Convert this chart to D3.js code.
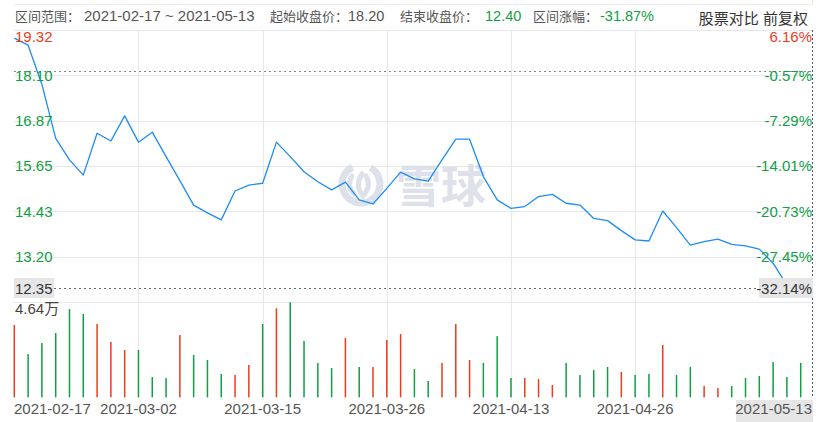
<!DOCTYPE html>
<html>
<head>
<meta charset="utf-8">
<script src="https://cdn.jsdelivr.net/npm/d3@7"></script>
<style>
  body { margin: 0; background: #fff; }
  svg { display: block; font-family: "Liberation Sans", Arial, "Noto Sans CJK SC", sans-serif; }
</style>
</head>
<body>
<div id="chart"></div>
<script>
// ------- data -------
const dates = [
  "2021-02-17","2021-02-18","2021-02-19","2021-02-22","2021-02-23","2021-02-24","2021-02-25","2021-02-26",
  "2021-03-01","2021-03-02","2021-03-03","2021-03-04","2021-03-05","2021-03-08","2021-03-09","2021-03-10",
  "2021-03-11","2021-03-12","2021-03-15","2021-03-16","2021-03-17","2021-03-18","2021-03-19","2021-03-22",
  "2021-03-23","2021-03-24","2021-03-25","2021-03-26","2021-03-29","2021-03-30","2021-03-31","2021-04-01",
  "2021-04-07","2021-04-08","2021-04-09","2021-04-12","2021-04-13","2021-04-14","2021-04-15","2021-04-16",
  "2021-04-19","2021-04-20","2021-04-21","2021-04-22","2021-04-23","2021-04-26","2021-04-27","2021-04-28",
  "2021-04-29","2021-04-30","2021-05-04","2021-05-05","2021-05-06","2021-05-07","2021-05-10","2021-05-11",
  "2021-05-12","2021-05-13"
];

const closes = [
  19.10, 18.91, 17.85, 16.39, 15.81, 15.40, 16.53, 16.32, 17.00, 16.29,
  16.56, 15.90, 15.25, 14.59, 14.38, 14.19, 14.97, 15.13, 15.18, 16.29,
  15.90, 15.49, 15.22, 15.00, 15.21, 14.73, 14.62, 15.04, 15.48, 15.30,
  15.24, 15.81, 16.37, 16.37, 15.36, 14.73, 14.50, 14.55, 14.82, 14.88,
  14.64, 14.59, 14.23, 14.17, 13.90, 13.65, 13.62, 14.43, 13.98, 13.51,
  13.60, 13.67, 13.53, 13.49, 13.40, 13.02, 12.43, 12.40
];

// 成交量（万）
const volumes = [
  3.53, 2.11, 2.65, 3.14, 4.31, 4.07, 3.58, 2.70, 2.31, 2.31,
  0.99, 0.94, 3.04, 2.07, 1.82, 1.14, 1.09, 1.58, 3.58, 4.35,
  4.64, 2.75, 1.68, 1.43, 2.90, 1.48, 1.48, 2.80, 3.09, 1.38,
  0.80, 1.68, 3.58, 1.82, 1.68, 2.99, 0.94, 0.94, 0.89, 0.60,
  1.68, 1.09, 1.33, 1.48, 1.24, 1.09, 1.14, 2.55, 1.09, 1.48,
  0.55, 0.45, 0.55, 0.94, 1.04, 1.72, 0.99, 1.68
];

// 1 = 涨 (red), 0 = 跌 (green)
const volUp = [
  1,0,0,0,0,0,1,1,1,0,
  0,0,1,0,0,0,1,1,0,1,
  0,0,0,0,1,0,1,1,1,0,
  0,1,1,1,0,0,0,1,1,1,
  0,0,0,0,1,0,0,1,0,0,
  1,1,0,0,0,0,0,0
];

const priceTicks = [19.32, 18.10, 16.87, 15.65, 14.43, 13.20, 12.35];
const pctTicks = ["6.16%", "-0.57%", "-7.29%", "-14.01%", "-20.73%", "-27.45%", "-32.14%"];
const dateTicks = ["2021-02-17", "2021-03-02", "2021-03-15", "2021-03-26", "2021-04-13", "2021-04-26", "2021-05-13"];
const startClose = 18.20;
const volMax = 4.64;

// ------- render -------
const W = 822, H = 422;
const RED = "#ee3b1e", GREEN = "#10a043", LINE = "#1e8cf5";
const GRID = "#e6e7ef", TXT = "#555";

const svg = d3.select("#chart").append("svg").attr("width", W).attr("height", H);

const x = d3.scalePoint().domain(dates).range([14.3, 800.7]);
const y = d3.scaleLinear().domain([12.35, 19.32]).range([288, 30]);
const yv = d3.scaleLinear().domain([0, volMax]).range([397.3, 302.3]);

const left = 14, right = 813;

// faint frame from the tab bar above
svg.append("path")
  .attr("d", `M${left},4.5H${right - 0.5}V0`)
  .attr("fill", "none").attr("stroke", "#ececec");

// header: label / value pairs
const headItems = [
  { lx: 15,  label: "区间范围：",   vx: 84,  value: "2021-02-17 ~ 2021-05-13", color: TXT },
  { lx: 270, label: "起始收盘价：", vx: 348, value: startClose.toFixed(2), color: TXT },
  { lx: 400, label: "结束收盘价：", vx: 485, value: closes[closes.length - 1].toFixed(2), color: GREEN },
  { lx: 533, label: "区间涨幅：",   vx: 600, value: "-31.87%", color: GREEN }
];
const head = svg.append("g").attr("fill", TXT);
head.selectAll("text.lab")
  .data(headItems)
  .join("text")
  .attr("class", "lab")
  .attr("x", d => d.lx).attr("y", 21)
  .style("font-size", "13px")
  .text(d => d.label);
head.selectAll("text.val")
  .data(headItems)
  .join("text")
  .attr("class", "val")
  .attr("x", d => d.vx).attr("y", 21)
  .attr("fill", d => d.color)
  .style("font-size", (d, i) => i === 0 ? "15px" : "14.5px")
  .text(d => d.value);

svg.append("text")
  .attr("x", 808).attr("y", 23.5).attr("text-anchor", "end")
  .attr("fill", "#333").style("font-size", "15px")
  .text("股票对比 前复权");

// horizontal grid
svg.append("g").selectAll("line")
  .data(priceTicks.slice(0, -1))
  .join("line")
  .attr("x1", left).attr("x2", right)
  .attr("y1", d => Math.round(y(d)) + 0.5).attr("y2", d => Math.round(y(d)) + 0.5)
  .attr("stroke", GRID);

svg.append("line")
  .attr("x1", left).attr("x2", right)
  .attr("y1", 302.5).attr("y2", 302.5)
  .attr("stroke", GRID);

// vertical grid
svg.append("g").selectAll("line")
  .data(dateTicks.slice(1, -1))
  .join("line")
  .attr("x1", d => Math.round(x(d)) + 0.5).attr("x2", d => Math.round(x(d)) + 0.5)
  .attr("y1", 30).attr("y2", 398)
  .attr("stroke", GRID);

// watermark
const wm = svg.append("g").attr("opacity", 0.75);
wm.append("circle")
  .attr("cx", 361).attr("cy", 184).attr("r", 19)
  .attr("fill", "none").attr("stroke", "#d3d8e2").attr("stroke-width", 7)
  .attr("stroke-dasharray", "100 19.4").attr("transform", "rotate(-60 361 184)");
wm.append("path")
  .attr("d", "M352,176 Q346,186 354,194 M362,174 Q354,186 363,196 Q372,186 366,176")
  .attr("fill", "none").attr("stroke", "#d3d8e2").attr("stroke-width", 5).attr("stroke-linecap", "round");
wm.append("text")
  .attr("x", 396).attr("y", 203)
  .attr("fill", "#d3d8e2").style("font-size", "45px").style("font-weight", "bold")
  .style("font-family", "'Noto Sans CJK SC', sans-serif")
  .text("雪球");

// dotted reference lines
svg.append("line")
  .attr("x1", left).attr("x2", right)
  .attr("y1", Math.round(y(startClose)) + 0.5).attr("y2", Math.round(y(startClose)) + 0.5)
  .attr("stroke", "#888").attr("stroke-dasharray", "2,3");

svg.append("line")
  .attr("x1", left).attr("x2", right)
  .attr("y1", Math.round(y(12.35)) + 0.5).attr("y2", Math.round(y(12.35)) + 0.5)
  .attr("stroke", "#666").attr("stroke-dasharray", "2,3");

svg.append("line")
  .attr("x1", right - 0.5).attr("x2", right - 0.5)
  .attr("y1", 30).attr("y2", 398)
  .attr("stroke", "#555").attr("stroke-dasharray", "2,2");

// volume bars
svg.append("g").selectAll("rect")
  .data(volumes)
  .join("rect")
  .attr("x", (d, i) => x(dates[i]) - 0.75)
  .attr("width", 1.5)
  .attr("y", d => yv(d))
  .attr("height", d => yv(0) - yv(d))
  .attr("fill", (d, i) => volUp[i] ? RED : GREEN);

// price line
const line = d3.line()
  .x((d, i) => x(dates[i]))
  .y(d => y(d));

svg.append("path")
  .datum(closes)
  .attr("fill", "none")
  .attr("stroke", LINE)
  .attr("stroke-width", 1.3)
  .attr("stroke-linejoin", "round")
  .attr("d", line);

// y labels, left (price) and right (percent)
const labY = (d, i) => i === 0 ? y(d) + 11.5 : y(d) + 5.5;
const labColor = (i) => i === 0 ? RED : (i === priceTicks.length - 1 ? "#333" : GREEN);

// grey boxes behind the last labels
svg.append("rect").attr("x", 14).attr("y", 278).attr("width", 40).attr("height", 20).attr("fill", "#e6e6e6");
svg.append("rect").attr("x", 759).attr("y", 278).attr("width", 54).attr("height", 20).attr("fill", "#e6e6e6");

svg.append("g").selectAll("text")
  .data(priceTicks)
  .join("text")
  .attr("x", 15)
  .attr("y", labY)
  .attr("fill", (d, i) => labColor(i))
  .style("font-size", "15px")
  .text(d => d.toFixed(2));

svg.append("g").selectAll("text")
  .data(priceTicks)
  .join("text")
  .attr("x", 812)
  .attr("y", labY)
  .attr("text-anchor", "end")
  .attr("fill", (d, i) => labColor(i))
  .style("font-size", "15px")
  .text((d, i) => pctTicks[i]);

// volume label
svg.append("text")
  .attr("x", 15).attr("y", 314)
  .attr("fill", "#444").style("font-size", "15px")
  .text(volMax.toFixed(2) + "万");

// x labels
svg.append("rect").attr("x", 736).attr("y", 400).attr("width", 77).attr("height", 22).attr("fill", "#e6e6e6");

svg.append("g").selectAll("text")
  .data(dateTicks)
  .join("text")
  .attr("x", (d, i) => i === 0 ? 14 : (i === dateTicks.length - 1 ? 812 : x(d)))
  .attr("y", 413.5)
  .attr("text-anchor", (d, i) => i === 0 ? "start" : (i === dateTicks.length - 1 ? "end" : "middle"))
  .attr("fill", TXT)
  .style("font-size", "15px")
  .text(d => d);
</script>
</body>
</html>
